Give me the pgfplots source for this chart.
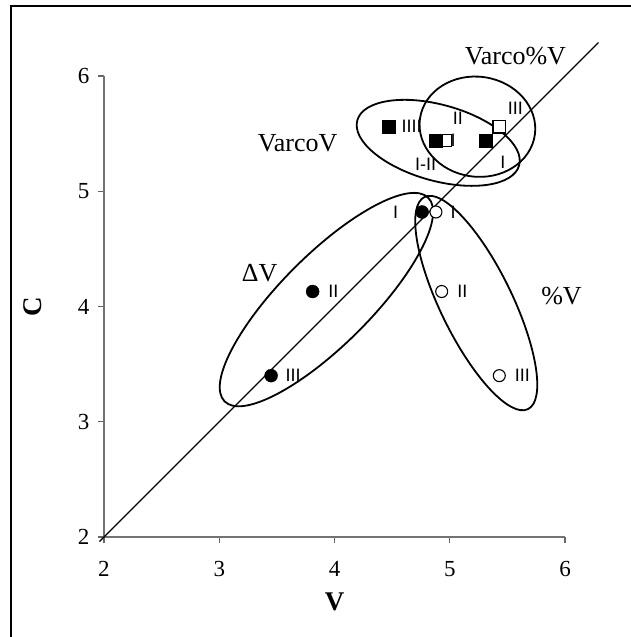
\documentclass[border=0pt]{standalone}
\usepackage{fontspec}
\setmainfont{Liberation Serif}
\newfontfamily\rnfont{Liberation Sans}
\usepackage{pgfplots}
\pgfplotsset{compat=1.18}

% Roman-numeral tags beside the points
\newcommand{\rn}[1]{{\rnfont\fontsize{18bp}{20bp}\selectfont #1}}

\begin{document}
\begin{tikzpicture}[font=\fontsize{21bp}{25bp}\selectfont]
% page = 631 x 637 px, axis origin (2,2) sits at px (104,537)
\path[use as bounding box] (-104bp,-100bp) rectangle (527bp,537bp);
% outer frame (only left and top edges fall on the page)
\draw[line width=1.4bp] (-93bp,-120bp) -- (-93bp,531bp) -- (560bp,531bp);

\begin{axis}[
    x=115.25bp, y=115.25bp,
    xmin=2, xmax=6, ymin=2, ymax=6,
    axis x line*=bottom, axis y line*=left,
    axis line style={line width=1.3bp, draw=black!55},
    tick style={line width=1.1bp, draw=black!60},
    tick align=outside,
    major tick length=6bp,
    xtick={2,3,4,5,6}, xticklabels={2,3,4,5,6},
    ytick={2,3,4,5,6}, yticklabels={2,3,4,5,6},
    tick label style={font=\fontsize{23bp}{27bp}\selectfont},
    xticklabel style={yshift=-15bp},
    yticklabel style={xshift=-5bp},
    xlabel={\textbf{V}},
    label style={font=\fontsize{27bp}{30bp}\selectfont},
    xlabel style={at={(axis description cs:0.5,-0.141)}, anchor=center},
    clip=false,
]

% reference diagonal C = V
\addplot[black, line width=1.2bp] coordinates {(1.96,1.96) (6.29,6.29)};

% group outlines
\draw[line width=1.8bp, rotate around={45:(axis cs:3.93,4.06)}]
    (axis cs:3.93,4.06) ellipse [x radius=144bp, y radius=45bp];
\draw[line width=1.8bp, rotate around={-64:(axis cs:5.23,4.03)}]
    (axis cs:5.23,4.03) ellipse [x radius=118bp, y radius=36bp];
\draw[line width=1.8bp, rotate around={-15.6:(axis cs:4.90,5.42)}]
    (axis cs:4.90,5.42) ellipse [x radius=84bp, y radius=38bp];
\draw[line width=1.8bp, rotate around={-8:(axis cs:5.24,5.56)}]
    (axis cs:5.24,5.56) ellipse [x radius=58bp, y radius=50bp];

% Varco%V (open squares) first, VarcoV (filled squares) on top
\addplot[only marks, mark=square*, mark size=6.3bp,
         mark options={fill=white, draw=black, line width=1.1bp}]
    coordinates {(5.43,5.56) (4.96,5.44)};
\addplot[only marks, mark=square*, mark size=6.3bp,
         mark options={fill=black, draw=black}]
    coordinates {(4.47,5.56) (4.88,5.44) (5.31,5.44)};

% Delta V (filled circles)
\addplot[only marks, mark=*, mark size=6.5bp,
         mark options={fill=black, draw=black}]
    coordinates {(4.76,4.82) (3.81,4.13) (3.45,3.40)};
% %V (open circles)
\addplot[only marks, mark=*, mark size=6bp,
         mark options={fill=white, draw=black, line width=1.1bp}]
    coordinates {(4.88,4.82) (4.93,4.13) (5.43,3.40)};

% numeral tags
\node at (axis cs:4.53,4.82) {\rn{I}};
\node at (axis cs:3.99,4.13) {\rn{II}};
\node at (axis cs:3.64,3.40) {\rn{III}};
\node at (axis cs:5.03,4.82) {\rn{I}};
\node at (axis cs:5.11,4.13) {\rn{II}};
\node at (axis cs:5.63,3.40) {\rn{III}};
\node at (axis cs:4.67,5.56) {\rn{IIII}};
\node at (axis cs:5.07,5.63) {\rn{II}};
\node at (axis cs:5.03,5.44) {\rn{I}};
\node at (axis cs:4.79,5.23) {\rn{I-II}};
\node at (axis cs:5.46,5.25) {\rn{I}};
\node at (axis cs:5.57,5.72) {\rn{III}};

% group names
\begin{scope}[font=\fontsize{26bp}{30bp}\selectfont]
\node at (axis cs:3.68,5.42) {VarcoV};
\node at (axis cs:5.57,6.17) {Varco$\%$V};
\node at (axis cs:3.35,4.29) {ΔV};
\node at (axis cs:5.97,4.09) {$\%$V};
\end{scope}

% y axis title, turned to read upwards
\node[rotate=90, font=\fontsize{27bp}{30bp}\selectfont]
    at (axis description cs:-0.154,0.5) {\textbf{C}};

\end{axis}
\end{tikzpicture}
\end{document}
